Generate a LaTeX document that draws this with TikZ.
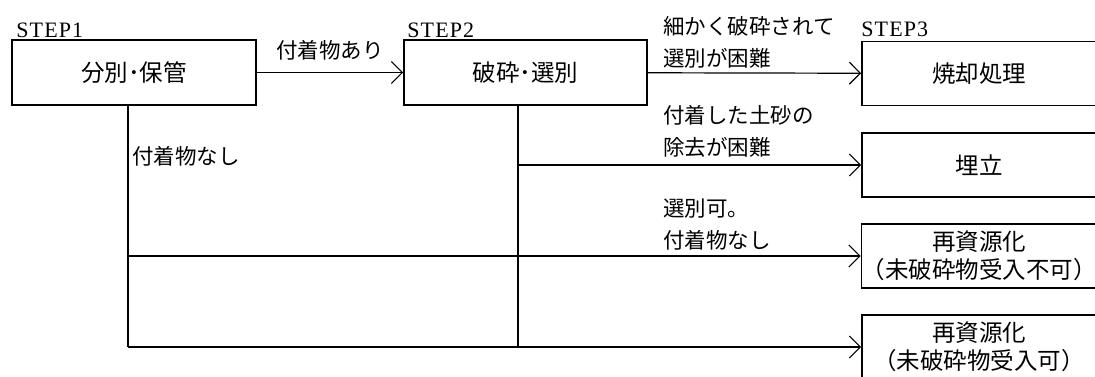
\documentclass[tikz,border=0pt]{standalone}
\usepackage{fontspec}
\newfontfamily\jpfont{Noto Sans CJK JP}
\newfontfamily\stepfont{Liberation Serif}[LetterSpace=5]
\usetikzlibrary{arrows.meta,positioning}

\begin{document}
\begin{tikzpicture}[x=1pt, y=-1pt, node distance=91pt, on grid,
box/.style={draw, line width=1.6pt, minimum width=234pt, minimum height=64pt, inner sep=0pt, align=center, font=\jpfont\fontsize{23.5}{28}\selectfont},
flow/.style={line width=1.2pt, -{Straight Barb[length=11pt,width=22pt,line width=1.2pt]}},
link/.style={line width=1.2pt},
note/.style={font=\jpfont\fontsize{21.5}{32}\selectfont, align=left, inner sep=0pt},
steplbl/.style={font=\stepfont\fontsize{22}{22}\selectfont, inner sep=0pt, anchor=base west}]
\useasboundingbox (0,0) rectangle (1095,376);
\node [box, minimum width=244pt, minimum height=65pt] (sort) at (134,72.5) {分別･保管};
\node [box, minimum width=243pt, minimum height=65pt] (crush) at (525.5,72.5) {破砕･選別};
\node [box] (burn) at (979,73.5) {焼却処理};
\node [box] (landfill) [below=91.5pt of burn] {埋立};
\node [box] (recycleA) [below=of landfill] {再資源化\\（未破砕物受入不可）};
\node [box] (recycleB) [below=of recycleA] {再資源化\\（未破砕物受入可）};
\node [steplbl] (step1) at ([xshift=5pt,yshift=2pt]sort.north west) {STEP1};
\node [steplbl] (step2) at ([xshift=4pt,yshift=2pt]crush.north west) {STEP2};
\node [steplbl] (step3) at ([xshift=0pt,yshift=4pt]burn.north west) {STEP3};
\coordinate (trunkA) at (128,347);
\coordinate (trunkB) at (518,347);
\draw [flow] (sort) -- node [note, above=12pt] (withsoil) {付着物あり} (crush);
\draw [flow] (crush) -- (burn);
\draw [link] (sort.south -| trunkA) -- (trunkA);
\draw [link] (crush.south -| trunkB) -- (trunkB);
\draw [flow] (trunkB |- landfill) -- (landfill);
\draw [flow] (trunkA |- recycleA) -- (recycleA);
\draw [flow] (trunkA) -- (recycleB);
\node [note, anchor=south west] (fine) at (663,68) {細かく破砕されて\\選別が困難};
\node [note, anchor=south west] (dirt) at (663,158) {付着した土砂の\\除去が困難};
\node [note, anchor=south west] (clean) at (663,250) {選別可。\\付着物なし};
\node [note, anchor=west] (nosoil) at (132,156) {付着物なし};
\end{tikzpicture}
\end{document}
